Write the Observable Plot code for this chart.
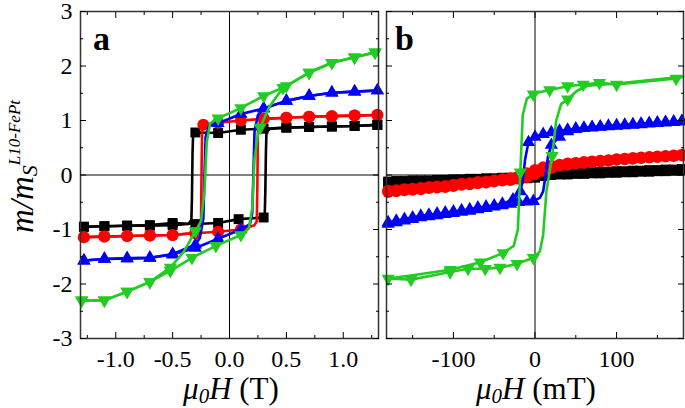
<!DOCTYPE html>
<html><head><meta charset="utf-8">
<script src="https://cdn.jsdelivr.net/npm/d3@7"></script>
<script src="https://cdn.jsdelivr.net/npm/@observablehq/plot@0.6"></script>
<style>
body{margin:0;background:#fff;}
#wrap{position:relative;width:685px;height:408px;font-family:"Liberation Serif",serif;}
#wrap svg{position:absolute;top:0;overflow:visible;}
</style></head><body><div id="wrap"></div>
<script>
// ---- tick values ----
const yMajor = [-3, -2, -1, 0, 1, 2, 3];
const yMinor = [-2.5, -1.5, -0.5, 0.5, 1.5, 2.5];
const aXMajor = [-1, -0.5, 0, 0.5, 1];
const aXMinor = [-1.25, -0.75, -0.25, 0.25, 0.75, 1.25];
const bXMajor = [-100, 0, 100];
const bXMinor = [-150, -50, 50, 150];

// ---- panel a: [mu0H (T), m/ms, marker?] ----
const aBlackDown = [[1.3,0.92,1],[1.1,0.9,1],[0.9,0.89,1],[0.7,0.88,1],[0.5,0.87,1],[0.3,0.85,1],[0.1,0.83,1],[-0.1,0.77,1],[-0.3,0.78,1],[-0.32,0.74],[-0.325,0.4],[-0.33,-0.4],[-0.335,-0.82],[-0.36,-0.9],[-0.5,-0.92,1],[-0.7,-0.93,1],[-0.9,-0.93,1],[-1.1,-0.94,1],[-1.28,-0.95,1]];
const aBlackUp = [[-1.28,-0.95,1],[-1.1,-0.94,1],[-0.9,-0.93,1],[-0.7,-0.92,1],[-0.5,-0.88,1],[-0.3,-0.9,1],[-0.1,-0.88,1],[0.08,-0.81,1],[0.3,-0.78,1],[0.31,-0.72],[0.315,-0.3],[0.32,0.4],[0.325,0.8],[0.36,0.85],[0.5,0.87,1],[0.7,0.88,1],[0.9,0.89,1],[1.1,0.9,1],[1.3,0.92,1]];
const aRedDown = [[1.3,1.1,1],[1.1,1.09,1],[0.9,1.08,1],[0.7,1.07,1],[0.5,1.05,1],[0.3,1.03,1],[0.1,1.0,1],[-0.1,0.96,1],[-0.23,0.92,1],[-0.24,0.85],[-0.245,0.2],[-0.25,-0.8],[-0.27,-1.02],[-0.3,-1.06,1],[-0.5,-1.1,1],[-0.7,-1.11,1],[-0.9,-1.12,1],[-1.1,-1.13,1],[-1.28,-1.14,1]];
const aRedUp = [[-1.28,-1.14,1],[-1.1,-1.13,1],[-0.9,-1.12,1],[-0.7,-1.11,1],[-0.5,-1.1,1],[-0.3,-1.07,1],[-0.1,-1.04,1],[0.1,-1.0,1],[0.22,-0.92],[0.24,-0.85],[0.245,-0.2],[0.25,0.8],[0.27,0.98],[0.3,1.03,1],[0.5,1.05,1],[0.7,1.07,1],[0.9,1.08,1],[1.1,1.09,1],[1.3,1.1,1]];
const aBlueDown = [[1.3,1.55,1],[1.1,1.53,1],[0.9,1.51,1],[0.7,1.45,1],[0.5,1.36,1],[0.3,1.22,1],[0.1,1.12,1],[-0.1,0.95,1],[-0.18,0.9],[-0.21,0.7],[-0.22,0],[-0.23,-0.8],[-0.26,-1.15],[-0.3,-1.28,1],[-0.5,-1.45,1],[-0.7,-1.52,1],[-0.9,-1.53,1],[-1.1,-1.54,1],[-1.28,-1.57,1]];
const aBlueUp = [[-1.28,-1.57,1],[-1.1,-1.54,1],[-0.9,-1.53,1],[-0.7,-1.52,1],[-0.5,-1.46,1],[-0.3,-1.34,1],[-0.1,-1.17,1],[0.1,-1.0,1],[0.18,-0.9],[0.2,-0.7],[0.21,0],[0.22,0.8],[0.25,1.1],[0.3,1.22,1],[0.5,1.36,1],[0.7,1.45,1],[0.9,1.51,1],[1.1,1.53,1],[1.3,1.55,1]];
const aGreenDown = [[1.28,2.25,1],[1.1,2.16,1],[0.9,2.06,1],[0.7,1.88,1],[0.5,1.63,1],[0.3,1.45,1],[0.1,1.23,1],[-0.1,1.04,1],[-0.17,0.95],[-0.2,0.6],[-0.22,-0.3],[-0.25,-0.85],[-0.3,-1.03,1],[-0.4,-1.4],[-0.52,-1.7,1],[-0.7,-1.96,1],[-0.9,-2.14,1],[-1.1,-2.3,1],[-1.3,-2.3,1]];
const aGreenUp = [[-1.3,-2.3,1],[-1.1,-2.3,1],[-0.9,-2.14,1],[-0.7,-1.96,1],[-0.52,-1.76,1],[-0.33,-1.52,1],[-0.12,-1.3,1],[0.1,-1.1,1],[0.17,-0.98],[0.2,-0.6],[0.22,0.3],[0.25,0.75],[0.27,0.87,1],[0.35,1.25],[0.47,1.6,1],[0.7,1.88,1],[0.9,2.06,1],[1.1,2.16,1],[1.28,2.25,1]];

// ---- panel b: [mu0H (mT), m/ms, marker?] ----
const bBlackDown = [[180,0.11,1],[170,0.1,1],[160,0.1,1],[150,0.09,1],[140,0.09,1],[130,0.08,1],[120,0.08,1],[110,0.07,1],[100,0.07,1],[90,0.06,1],[80,0.06,1],[70,0.05,1],[60,0.05,1],[50,0.04,1],[40,0.04,1],[30,0.03,1],[20,0.03,1],[10,0.02,1],[0,0.0,1],[-10,-0.03,1],[-20,-0.04,1],[-30,-0.05,1],[-40,-0.05,1],[-50,-0.06,1],[-60,-0.06,1],[-70,-0.07,1],[-80,-0.07,1],[-90,-0.08,1],[-100,-0.08,1],[-110,-0.09,1],[-120,-0.09,1],[-130,-0.1,1],[-140,-0.1,1],[-150,-0.1,1],[-160,-0.11,1],[-170,-0.11,1],[-180,-0.12,1]];
const bBlackUp = [[-180,-0.15,1],[-170,-0.14,1],[-160,-0.14,1],[-150,-0.13,1],[-140,-0.13,1],[-130,-0.12,1],[-120,-0.12,1],[-110,-0.11,1],[-100,-0.11,1],[-90,-0.1,1],[-80,-0.1,1],[-70,-0.09,1],[-60,-0.09,1],[-50,-0.08,1],[-40,-0.08,1],[-30,-0.07,1],[-20,-0.07,1],[-10,-0.06,1],[0,-0.05,1],[10,-0.02,1],[20,0.0,1],[30,0.01,1],[40,0.01,1],[50,0.02,1],[60,0.02,1],[70,0.03,1],[80,0.03,1],[90,0.04,1],[100,0.04,1],[110,0.05,1],[120,0.05,1],[130,0.06,1],[140,0.06,1],[150,0.07,1],[160,0.07,1],[170,0.08,1],[180,0.08,1]];
const bRedDown = [[180,0.37,1],[170,0.36,1],[160,0.35,1],[150,0.34,1],[140,0.33,1],[130,0.32,1],[120,0.31,1],[110,0.3,1],[100,0.29,1],[90,0.27,1],[80,0.26,1],[70,0.25,1],[60,0.24,1],[50,0.22,1],[40,0.21,1],[30,0.19,1],[20,0.17,1],[10,0.14,1],[0,0.09,1],[-10,0.03,1],[-20,-0.03,1],[-30,-0.06,1],[-40,-0.08,1],[-50,-0.1,1],[-60,-0.12,1],[-70,-0.13,1],[-80,-0.15,1],[-90,-0.16,1],[-100,-0.18,1],[-110,-0.2,1],[-120,-0.21,1],[-130,-0.22,1],[-140,-0.24,1],[-150,-0.25,1],[-160,-0.26,1],[-170,-0.28,1],[-180,-0.29,1]];
const bRedUp = [[-180,-0.31,1],[-170,-0.3,1],[-160,-0.28,1],[-150,-0.27,1],[-140,-0.26,1],[-130,-0.24,1],[-120,-0.23,1],[-110,-0.22,1],[-100,-0.2,1],[-90,-0.18,1],[-80,-0.17,1],[-70,-0.15,1],[-60,-0.14,1],[-50,-0.12,1],[-40,-0.1,1],[-30,-0.09,1],[-20,-0.07,1],[-10,-0.04,1],[0,0.02,1],[10,0.08,1],[20,0.13,1],[30,0.17,1],[40,0.19,1],[50,0.21,1],[60,0.22,1],[70,0.24,1],[80,0.25,1],[90,0.26,1],[100,0.28,1],[110,0.29,1],[120,0.3,1],[130,0.31,1],[140,0.32,1],[150,0.33,1],[160,0.34,1],[170,0.35,1],[180,0.36,1]];
const bBlueDown = [[180,0.99,1],[170,0.98,1],[160,0.97,1],[150,0.96,1],[140,0.95,1],[130,0.94,1],[120,0.93,1],[110,0.92,1],[100,0.91,1],[90,0.9,1],[80,0.89,1],[70,0.88,1],[60,0.86,1],[50,0.85,1],[40,0.83,1],[30,0.81,1],[20,0.78,1],[10,0.75,1],[0,0.7,1],[-8,0.6,1],[-12,0.3],[-15,-0.1],[-18,-0.3,1],[-27,-0.45,1],[-40,-0.53,1],[-50,-0.56,1],[-60,-0.58,1],[-70,-0.6,1],[-80,-0.63,1],[-90,-0.65,1],[-100,-0.67,1],[-110,-0.69,1],[-120,-0.71,1],[-130,-0.73,1],[-140,-0.75,1],[-150,-0.78,1],[-160,-0.81,1],[-170,-0.84,1],[-180,-0.87,1]];
const bBlueUp = [[-180,-0.9,1],[-170,-0.87,1],[-160,-0.84,1],[-150,-0.81,1],[-140,-0.78,1],[-130,-0.76,1],[-120,-0.74,1],[-110,-0.72,1],[-100,-0.7,1],[-90,-0.68,1],[-80,-0.66,1],[-70,-0.63,1],[-60,-0.61,1],[-50,-0.58,1],[-40,-0.56,1],[-30,-0.53,1],[-20,-0.5,1],[-10,-0.49,1],[-2,-0.48,1],[6,-0.42],[10,-0.3],[13,0.0],[16,0.35],[20,0.55,1],[30,0.7,1],[40,0.8,1],[50,0.84,1],[60,0.86,1],[70,0.87,1],[80,0.88,1],[90,0.89,1],[100,0.9,1],[110,0.91,1],[120,0.92,1],[130,0.93,1],[140,0.94,1],[150,0.95,1],[160,0.96,1],[170,0.97,1],[180,0.98,1]];
const bGreenDown = [[180,1.8],[173,1.77,1],[100,1.66,1],[79,1.69,1],[59,1.66,1],[40,1.63,1],[18,1.56,1],[5,1.52],[-2,1.48,1],[-10,1.4],[-15,1.1],[-18,0.05,1],[-21,-1.0],[-26,-1.3],[-39,-1.43,1],[-67,-1.6,1],[-104,-1.74,1],[-150,-1.84],[-180,-1.9]];
const bGreenUp = [[-180,-1.9,1],[-152,-1.92,1],[-104,-1.78,1],[-82,-1.72,1],[-61,-1.72,1],[-43,-1.7,1],[-22,-1.63,1],[-2,-1.52,1],[6,-1.4],[10,-1.1],[14,-0.3],[21,0.35,1],[26,1.0],[32,1.3],[40,1.39,1],[52,1.55],[65,1.64],[100,1.68],[180,1.8]];

// ---- styles ----
const COLORS = {black: "#000000", red: "#ff0000", blue: "#0000ff", green: "#22cc22"};
const triDown = {draw(ctx, size) {
  const y = -Math.sqrt(size / (Math.sqrt(3) * 3));
  ctx.moveTo(0, -y * 2); ctx.lineTo(-Math.sqrt(3) * y, y); ctx.lineTo(Math.sqrt(3) * y, y); ctx.closePath();
}};
const seriesStyle = [
  {key: "black", symbol: "square", r: 5.6},
  {key: "red", symbol: "circle", r: 6},
  {key: "blue", symbol: "triangle", r: 4.9},
  {key: "green", symbol: triDown, r: 4.9}
];
const blank = () => "";
const FONT = "'Liberation Serif', 'Times New Roman', serif";

function seriesMarks(branches) {
  const marks = [];
  branches.forEach((pair, i) => {
    const st = seriesStyle[i];
    const col = COLORS[st.key];
    for (const br of pair) {
      marks.push(Plot.line(br, {x: d => d[0], y: d => d[1], stroke: col, strokeWidth: 2.6, curve: "linear"}));
      marks.push(Plot.dot(br.filter(d => d[2]), {x: d => d[0], y: d => d[1], symbol: st.symbol, r: st.r, fill: col, stroke: "none"}));
    }
  });
  return marks;
}
function axisMarks(xMajor, xMinor, fmtX, yLabels) {
  return [
    Plot.axisX({ticks: xMajor, anchor: "bottom", tickSize: -6, tickPadding: 17, tickFormat: fmtX, label: null, fontSize: 24}),
    Plot.axisX({ticks: xMajor, anchor: "top", tickSize: -6, tickFormat: blank, label: null}),
    Plot.axisX({ticks: xMinor, anchor: "bottom", tickSize: -3, tickFormat: blank, label: null}),
    Plot.axisX({ticks: xMinor, anchor: "top", tickSize: -3, tickFormat: blank, label: null}),
    Plot.axisY({ticks: yMajor, anchor: "left", tickSize: -6, tickPadding: 14, tickFormat: yLabels ? (d => String(d)) : blank, label: null, fontSize: 24}),
    Plot.axisY({ticks: yMajor, anchor: "right", tickSize: -6, tickFormat: blank, label: null}),
    Plot.axisY({ticks: yMinor, anchor: "left", tickSize: -3, tickFormat: blank, label: null}),
    Plot.axisY({ticks: yMinor, anchor: "right", tickSize: -3, tickFormat: blank, label: null})
  ];
}
const common = {
  height: 408, marginTop: 11, marginBottom: 70,
  y: {domain: [-3, 3]},
  style: {fontFamily: FONT, fontSize: "24px", background: "transparent", overflow: "visible", color: "#000"}
};

const plotA = Plot.plot({
  ...common, width: 380, marginLeft: 80, marginRight: 2,
  x: {domain: [-1.31, 1.31]},
  marks: [
    Plot.ruleY([0], {stroke: "#000", strokeWidth: 1}),
    Plot.ruleX([0], {stroke: "#000", strokeWidth: 1}),
    ...seriesMarks([[aBlackDown, aBlackUp], [aRedDown, aRedUp], [aBlueDown, aBlueUp], [aGreenDown, aGreenUp]]),
    Plot.frame({stroke: "#333", strokeWidth: 1.5}),
    ...axisMarks(aXMajor, aXMinor, d => d.toFixed(1), true)
  ]
});
const plotB = Plot.plot({
  ...common, width: 305, marginLeft: 6, marginRight: 2,
  x: {domain: [-182, 182]},
  marks: [
    Plot.ruleY([0], {stroke: "#000", strokeWidth: 1}),
    Plot.ruleX([0], {stroke: "#000", strokeWidth: 1}),
    ...seriesMarks([[bBlackDown, bBlackUp], [bRedDown, bRedUp], [bBlueDown, bBlueUp], [bGreenDown, bGreenUp]]),
    Plot.frame({stroke: "#333", strokeWidth: 1.5}),
    ...axisMarks(bXMajor, bXMinor, d => String(d), false)
  ]
});
const wrap = document.getElementById("wrap");
plotA.style.left = "0px"; plotB.style.left = "380px";
wrap.appendChild(plotA); wrap.appendChild(plotB);

function xLabel(svg, cx, unit) {
  const t = d3.select(svg).append("text").attr("x", cx).attr("y", 399).attr("text-anchor", "middle")
    .attr("font-family", FONT).attr("font-size", 31).attr("fill", "#000");
  t.append("tspan").attr("font-style", "italic").text("μ");
  t.append("tspan").attr("font-style", "italic").attr("font-size", 21).attr("dy", 4).text("0");
  t.append("tspan").attr("font-style", "italic").attr("dy", -4).text("H");
  t.append("tspan").text(" (" + unit + ")");
}
xLabel(plotA, 231, "T");
xLabel(plotB, 156, "mT");

const yl = d3.select(plotA).append("text").attr("transform", "translate(33,233) rotate(-90)")
  .attr("text-anchor", "start")
  .attr("font-family", FONT).attr("font-size", 33).attr("font-style", "italic").attr("fill", "#000");
yl.append("tspan").text("m/m");
yl.append("tspan").attr("font-size", 22).attr("dy", 4).text("S");
yl.append("tspan").attr("font-size", 17).attr("dy", -17).text("L10-FePt");

d3.select(plotA).append("text").attr("x", 93).attr("y", 50).attr("text-anchor", "start").attr("font-family", FONT)
  .attr("font-size", 34).attr("font-weight", "bold").attr("fill", "#000").text("a");
d3.select(plotB).append("text").attr("x", 15).attr("y", 50).attr("text-anchor", "start").attr("font-family", FONT)
  .attr("font-size", 34).attr("font-weight", "bold").attr("fill", "#000").text("b");
</script></body></html>
